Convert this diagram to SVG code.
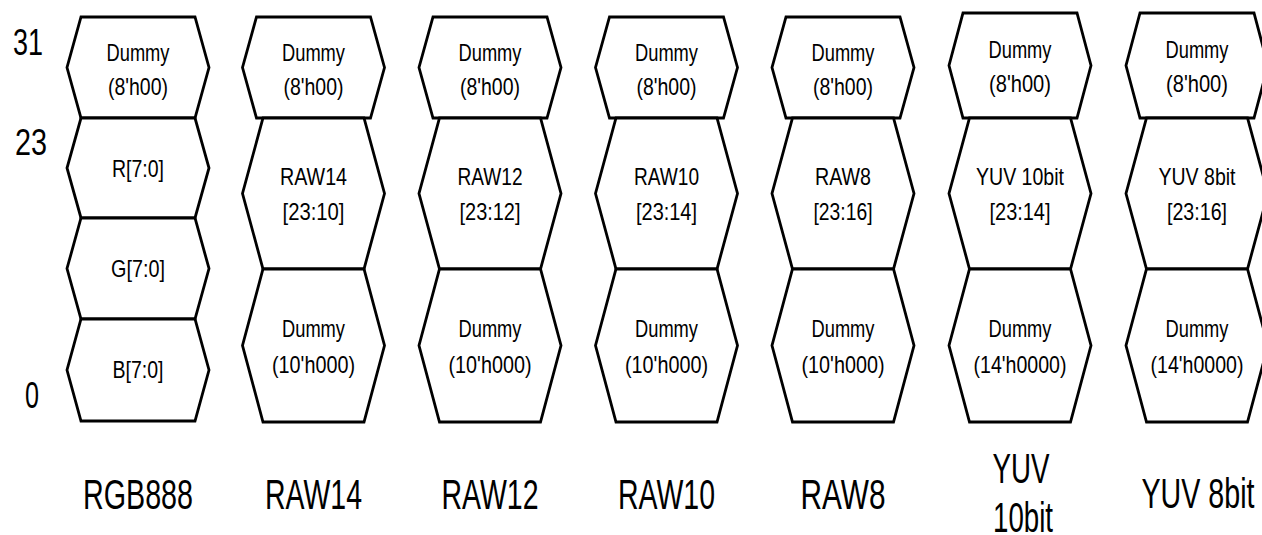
<svg xmlns="http://www.w3.org/2000/svg" width="1262" height="535" viewBox="0 0 1262 535">
<style>
.hex{fill:#fff;stroke:#000;stroke-width:2.8;stroke-linejoin:miter}
.t{font-family:"Liberation Sans",Arial,sans-serif;font-size:24px;fill:#000;text-anchor:middle}
.b{font-family:"Liberation Sans",Arial,sans-serif;font-size:43px;fill:#000;text-anchor:middle}
.a{font-family:"Liberation Sans",Arial,sans-serif;font-size:37px;fill:#000;text-anchor:middle}
</style>
<defs>
<polygon id="hTop" points="-57,17 57,17 71,67.5 57,118 -57,118 -71,67.5"/>
<polygon id="hTopY" points="-57,13 57,13 71,65.5 57,118 -57,118 -71,65.5"/>
<polygon id="hBig" points="-50.5,118 50.5,118 71,193.5 50.5,269 -50.5,269 -71,193.5"/>
<polygon id="hLow" points="-50.5,269 50.5,269 71,345.5 50.5,422 -50.5,422 -71,345.5"/>
</defs>
<rect width="1262" height="535" fill="#fff"/>

<g id="bit-labels">
<text class="a" x="28" y="55" textLength="30" lengthAdjust="spacingAndGlyphs">31</text>
<text class="a" x="31" y="155" textLength="32" lengthAdjust="spacingAndGlyphs">23</text>
<text class="a" x="32" y="408" textLength="14" lengthAdjust="spacingAndGlyphs">0</text>
</g>

<g id="connectors"></g>

<g id="col-rgb888" transform="translate(138,0)">
<g id="rgb-dummy">
<polygon class="hex" points="-57,17 57,17 71,67.5 57,118 -57,118 -71,67.5"/>
<text class="t" x="0" y="61" textLength="63" lengthAdjust="spacingAndGlyphs">Dummy</text>
<text class="t" x="0" y="95" textLength="60" lengthAdjust="spacingAndGlyphs">(8'h00)</text>
</g>
<g id="rgb-r">
<polygon class="hex" points="-57,118 57,118 71,168 57,218 -57,218 -71,168"/>
<text class="t" x="0" y="177" textLength="52" lengthAdjust="spacingAndGlyphs">R[7:0]</text>
</g>
<g id="rgb-g">
<polygon class="hex" points="-57,218 57,218 71,268.5 57,319 -57,319 -71,268.5"/>
<text class="t" x="0" y="277" textLength="54" lengthAdjust="spacingAndGlyphs">G[7:0]</text>
</g>
<g id="rgb-b">
<polygon class="hex" points="-57,319 57,319 71,370 57,421 -57,421 -71,370"/>
<text class="t" x="0" y="378" textLength="51" lengthAdjust="spacingAndGlyphs">B[7:0]</text>
</g>
<text class="b" x="0" y="509" textLength="110" lengthAdjust="spacingAndGlyphs">RGB888</text>
</g>

<g id="col-raw14" transform="translate(313.5,0)">
<g id="raw14-dummy-top"><use href="#hTop" class="hex"/>
<text class="t" x="0" y="61" textLength="63" lengthAdjust="spacingAndGlyphs">Dummy</text>
<text class="t" x="0" y="95" textLength="60" lengthAdjust="spacingAndGlyphs">(8'h00)</text></g>
<g id="raw14-data"><use href="#hBig" class="hex"/>
<text class="t" x="0" y="185" textLength="67" lengthAdjust="spacingAndGlyphs">RAW14</text>
<text class="t" x="0" y="220" textLength="62" lengthAdjust="spacingAndGlyphs">[23:10]</text></g>
<g id="raw14-dummy-low"><use href="#hLow" class="hex"/>
<text class="t" x="0" y="337" textLength="63" lengthAdjust="spacingAndGlyphs">Dummy</text>
<text class="t" x="0" y="373" textLength="83" lengthAdjust="spacingAndGlyphs">(10'h000)</text></g>
<text class="b" x="0" y="509" textLength="97" lengthAdjust="spacingAndGlyphs">RAW14</text>
</g>

<g id="col-raw12" transform="translate(490,0)">
<g id="raw12-dummy-top"><use href="#hTop" class="hex"/>
<text class="t" x="0" y="61" textLength="63" lengthAdjust="spacingAndGlyphs">Dummy</text>
<text class="t" x="0" y="95" textLength="60" lengthAdjust="spacingAndGlyphs">(8'h00)</text></g>
<g id="raw12-data"><use href="#hBig" class="hex"/>
<text class="t" x="0" y="185" textLength="65" lengthAdjust="spacingAndGlyphs">RAW12</text>
<text class="t" x="0" y="220" textLength="61" lengthAdjust="spacingAndGlyphs">[23:12]</text></g>
<g id="raw12-dummy-low"><use href="#hLow" class="hex"/>
<text class="t" x="0" y="337" textLength="63" lengthAdjust="spacingAndGlyphs">Dummy</text>
<text class="t" x="0" y="373" textLength="83" lengthAdjust="spacingAndGlyphs">(10'h000)</text></g>
<text class="b" x="0" y="509" textLength="97" lengthAdjust="spacingAndGlyphs">RAW12</text>
</g>

<g id="col-raw10" transform="translate(666.5,0)">
<g id="raw10-dummy-top"><use href="#hTop" class="hex"/>
<text class="t" x="0" y="61" textLength="63" lengthAdjust="spacingAndGlyphs">Dummy</text>
<text class="t" x="0" y="95" textLength="60" lengthAdjust="spacingAndGlyphs">(8'h00)</text></g>
<g id="raw10-data"><use href="#hBig" class="hex"/>
<text class="t" x="0" y="185" textLength="65" lengthAdjust="spacingAndGlyphs">RAW10</text>
<text class="t" x="0" y="220" textLength="61" lengthAdjust="spacingAndGlyphs">[23:14]</text></g>
<g id="raw10-dummy-low"><use href="#hLow" class="hex"/>
<text class="t" x="0" y="337" textLength="63" lengthAdjust="spacingAndGlyphs">Dummy</text>
<text class="t" x="0" y="373" textLength="83" lengthAdjust="spacingAndGlyphs">(10'h000)</text></g>
<text class="b" x="0" y="509" textLength="97" lengthAdjust="spacingAndGlyphs">RAW10</text>
</g>

<g id="col-raw8" transform="translate(843,0)">
<g id="raw8-dummy-top"><use href="#hTop" class="hex"/>
<text class="t" x="0" y="61" textLength="63" lengthAdjust="spacingAndGlyphs">Dummy</text>
<text class="t" x="0" y="95" textLength="60" lengthAdjust="spacingAndGlyphs">(8'h00)</text></g>
<g id="raw8-data"><use href="#hBig" class="hex"/>
<text class="t" x="0" y="185" textLength="56" lengthAdjust="spacingAndGlyphs">RAW8</text>
<text class="t" x="0" y="220" textLength="59" lengthAdjust="spacingAndGlyphs">[23:16]</text></g>
<g id="raw8-dummy-low"><use href="#hLow" class="hex"/>
<text class="t" x="0" y="337" textLength="63" lengthAdjust="spacingAndGlyphs">Dummy</text>
<text class="t" x="0" y="373" textLength="83" lengthAdjust="spacingAndGlyphs">(10'h000)</text></g>
<text class="b" x="0" y="509" textLength="85" lengthAdjust="spacingAndGlyphs">RAW8</text>
</g>

<g id="col-yuv10" transform="translate(1020,0)">
<g id="yuv10-dummy-top"><use href="#hTopY" class="hex"/>
<text class="t" x="0" y="58" textLength="63" lengthAdjust="spacingAndGlyphs">Dummy</text>
<text class="t" x="0" y="92" textLength="62" lengthAdjust="spacingAndGlyphs">(8'h00)</text></g>
<g id="yuv10-data"><use href="#hBig" class="hex"/>
<text class="t" x="0" y="185" textLength="88" lengthAdjust="spacingAndGlyphs">YUV 10bit</text>
<text class="t" x="0" y="220" textLength="61" lengthAdjust="spacingAndGlyphs">[23:14]</text></g>
<g id="yuv10-dummy-low"><use href="#hLow" class="hex"/>
<text class="t" x="0" y="337" textLength="63" lengthAdjust="spacingAndGlyphs">Dummy</text>
<text class="t" x="0" y="373" textLength="93" lengthAdjust="spacingAndGlyphs">(14'h0000)</text></g>
<text class="b" x="1" y="483" textLength="57" lengthAdjust="spacingAndGlyphs">YUV</text>
<text class="b" x="3" y="532" textLength="60" lengthAdjust="spacingAndGlyphs">10bit</text>
</g>

<g id="col-yuv8" transform="translate(1197,0)">
<g id="yuv8-dummy-top"><use href="#hTopY" class="hex"/>
<text class="t" x="0" y="58" textLength="63" lengthAdjust="spacingAndGlyphs">Dummy</text>
<text class="t" x="0" y="92" textLength="62" lengthAdjust="spacingAndGlyphs">(8'h00)</text></g>
<g id="yuv8-data"><use href="#hBig" class="hex"/>
<text class="t" x="0" y="185" textLength="77" lengthAdjust="spacingAndGlyphs">YUV 8bit</text>
<text class="t" x="0" y="220" textLength="60" lengthAdjust="spacingAndGlyphs">[23:16]</text></g>
<g id="yuv8-dummy-low"><use href="#hLow" class="hex"/>
<text class="t" x="0" y="337" textLength="63" lengthAdjust="spacingAndGlyphs">Dummy</text>
<text class="t" x="0" y="373" textLength="93" lengthAdjust="spacingAndGlyphs">(14'h0000)</text></g>
<text class="b" x="1" y="508" textLength="113" lengthAdjust="spacingAndGlyphs">YUV 8bit</text>
</g>
</svg>
